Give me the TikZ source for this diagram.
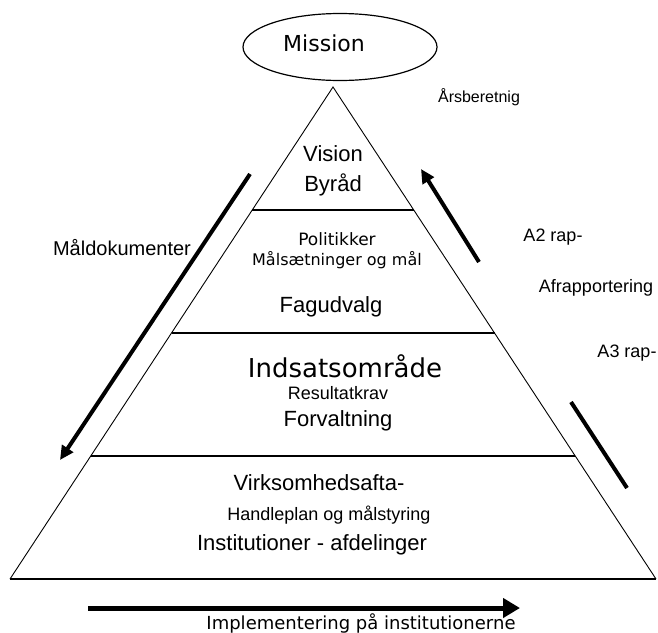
\documentclass[tikz,border=0pt]{standalone}
\usepackage{fontspec}
\setmainfont{Liberation Sans}
\newfontfamily\verdfont{DejaVu Sans}
\usetikzlibrary{arrows.meta,shapes.geometric,calc}
\newcommand{\fsz}[1]{\fontsize{#1}{#1}\selectfont}
\tikzset{
  lvl/.style={line width=1.3pt},
  side/.style={line width=0.9pt},
  flow/.style={line width=4pt,-{Triangle[length=14pt,width=13pt]}},
  lbl/.style={inner sep=0pt},
}
\begin{document}
\begin{tikzpicture}[x=1pt,y=-1pt]
\useasboundingbox (0,0) rectangle (658,632);
\coordinate (T) at (333,87);
\coordinate (BL) at (10,579);
\coordinate (BR) at (656,579);
\coordinate (L1) at ($(T)!0.25!(BL)$);
\coordinate (R1) at ($(T)!0.25!(BR)$);
\coordinate (L2) at ($(T)!0.5!(BL)$);
\coordinate (R2) at ($(T)!0.5!(BR)$);
\coordinate (L3) at ($(T)!0.75!(BL)$);
\coordinate (R3) at ($(T)!0.75!(BR)$);
\draw[side] (BL) -- (T) -- (BR);
\draw[lvl] (L1) -- (R1) (L2) -- (R2) (L3) -- (R3) (BL) -- (BR);
\node[ellipse,draw,line width=1.2pt,inner sep=0pt,minimum width=194,minimum height=67] (mission) at (340,47) {};
\node[lbl,font=\verdfont\fsz{22}] (missiontxt) at (324,43) {Mission};
\node[lbl,font=\fsz{16}] (aars) at (479,97) {Årsberetnig};
\node[lbl,font=\fsz{22}] (vision) at (333,154) {Vision};
\node[lbl,font=\fsz{22}] (byraad) at (333,185) {Byråd};
\node[lbl,font=\verdfont\fsz{17}] (politik) at (337,239) {Politikker};
\node[lbl,font=\verdfont\fsz{16}] (maal) at (337,260) {Målsætninger og mål};
\node[lbl,font=\fsz{22}] (fagudvalg) at (331,307) {Fagudvalg};
\node[lbl,font=\verdfont\fsz{26}] (indsats) at (345,366) {Indsatsområde};
\node[lbl,font=\fsz{18}] (resultat) at (338,393) {Resultatkrav};
\node[lbl,font=\fsz{22}] (forvalt) at (338,421) {Forvaltning};
\node[lbl,font=\fsz{22}] (virk) at (319,483) {Virksomhedsafta-};
\node[lbl,font=\fsz{18}] (handle) at (329,515) {Handleplan og målstyring};
\node[lbl,font=\fsz{22}] (inst) at (312,545) {Institutioner - afdelinger};
\node[lbl,font=\fsz{20}] (maaldok) at (122,248) {Måldokumenter};
\node[lbl,font=\fsz{18}] (a2) at (553,237) {A2 rap-};
\node[lbl,font=\fsz{18}] (afrap) at (596,288) {Afrapportering};
\node[lbl,font=\fsz{18}] (a3) at (627,353) {A3 rap-};
\node[lbl,font=\verdfont\fsz{18}] (impl) at (361,623) {Implementering på institutionerne};
\coordinate (ld1) at (250,174);
\coordinate (ld2) at (60,460);
\coordinate (ru1) at (479,262);
\coordinate (ru2) at (421,169);
\coordinate (rl1) at (571,402);
\coordinate (rl2) at (627,488);
\coordinate (im1) at (88,608);
\coordinate (im2) at (520,608);
\draw[flow] (ld1) -- (ld2);
\draw[flow] (ru1) -- (ru2);
\draw[line width=4pt] (rl1) -- (rl2);
\draw[line width=5pt,-{Triangle[length=17pt,width=19pt]}] (im1) -- (im2);
\end{tikzpicture}
\end{document}
